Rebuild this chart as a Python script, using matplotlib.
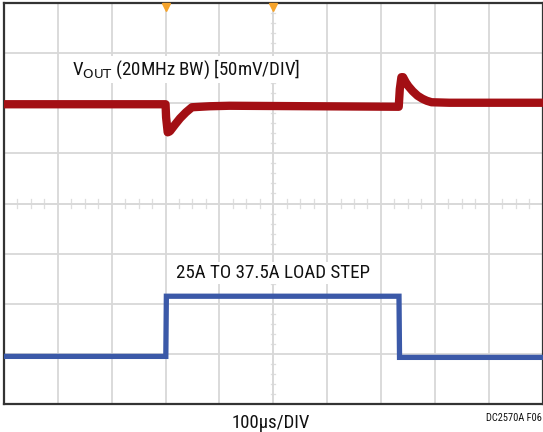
import matplotlib
matplotlib.use("Agg")
import matplotlib.pyplot as plt

# scope capture, time in us (100us/div), trace position in mV on screen (50mV/div)
vout_t = [0, 300, 301, 304, 308, 318, 327, 338, 349, 365, 382, 419, 733, 735, 738, 741, 746, 751, 759, 768, 777, 785, 794, 827, 1000]
vout_y = [99, 99, 86, 71, 72, 79, 85, 91, 96, 96.5, 97, 97.5, 96.5, 114, 126, 126, 121, 117, 112, 107.5, 104.5, 102.5, 101, 100.5, 100.5]

load_t = [0, 300.5, 301.5, 733.5, 734.5, 1000]
load_y = [-152.5, -152.5, -92.5, -92.5, -153.5, -153.5]

trig_t = [300, 500]

vout_label = "V$_{\\mathrm{OUT}}$ (20MHz BW) [50mV/DIV]"
load_label = "25A TO 37.5A LOAD STEP"
time_label = "100\u00b5s/DIV"
fig_tag = "DC2570A F06"

fonts = ['Liberation Sans Narrow', 'Roboto Condensed', 'DejaVu Sans']
plt.rcParams['mathtext.fontset'] = 'custom'
plt.rcParams['mathtext.rm'] = 'Liberation Sans Narrow'

fig = plt.figure(figsize=(5.43, 4.32), dpi=100)
ax = fig.add_axes([4/543, 28/432, 538.5/543, 401/432])
ax.set_xlim(0, 1000)
ax.set_ylim(-200, 200)

ax.set_xticks(range(0, 1001, 100))
ax.set_yticks(range(-200, 201, 50))
ax.tick_params(length=0, labelbottom=False, labelleft=False)
ax.grid(True, color='#d8d8d8', linewidth=1.3)
for g in ax.get_xgridlines() + ax.get_ygridlines():
    g.set_zorder(0)

# center lines are fainter, with small ticks
ax.axvline(500, color='#e6e6e6', lw=1.3, zorder=0.5)
ax.axhline(0, color='#e6e6e6', lw=1.3, zorder=0.5)
for k in range(-20, 21):
    if k % 5:
        ax.plot([496, 504], [k*10, k*10], color='#dedede', lw=0.9, zorder=0.6)
for k in range(0, 41):
    if k % 4:
        ax.plot([k*25, k*25], [-4, 4], color='#dedede', lw=0.9, zorder=0.6)

for s in ax.spines.values():
    s.set_color('#333333')
    s.set_linewidth(1.6)

ax.plot(vout_t, vout_y, color='#a30f14', lw=6, solid_joinstyle='round', zorder=3)
ax.plot(load_t, load_y, color='#3b59a8', lw=3.8, solid_joinstyle='miter', zorder=3)

ax.plot(trig_t, [196, 196], linestyle='none', marker='v', markersize=6,
        color='#f5a32a', clip_on=False, zorder=5)

box = dict(facecolor='white', edgecolor='none', pad=1.5)
fig.text(72/543, 1 - 75/432, vout_label, family=fonts, fontsize=13.6,
         ha='left', va='baseline', color='#111111', bbox=box, zorder=4)
fig.text(176/543, 1 - 278/432, load_label, family=fonts, fontsize=13.7,
         ha='left', va='baseline', color='#111111', bbox=box, zorder=4)
fig.text(271/543, 1 - 428/432, time_label, family=fonts, fontsize=13.5,
         ha='center', va='baseline', color='#111111')
fig.text(542/543, 1 - 421/432, fig_tag, family=fonts, fontsize=7.5,
         ha='right', va='baseline', color='#111111')

fig.savefig('out.png', dpi=100, facecolor='white')
